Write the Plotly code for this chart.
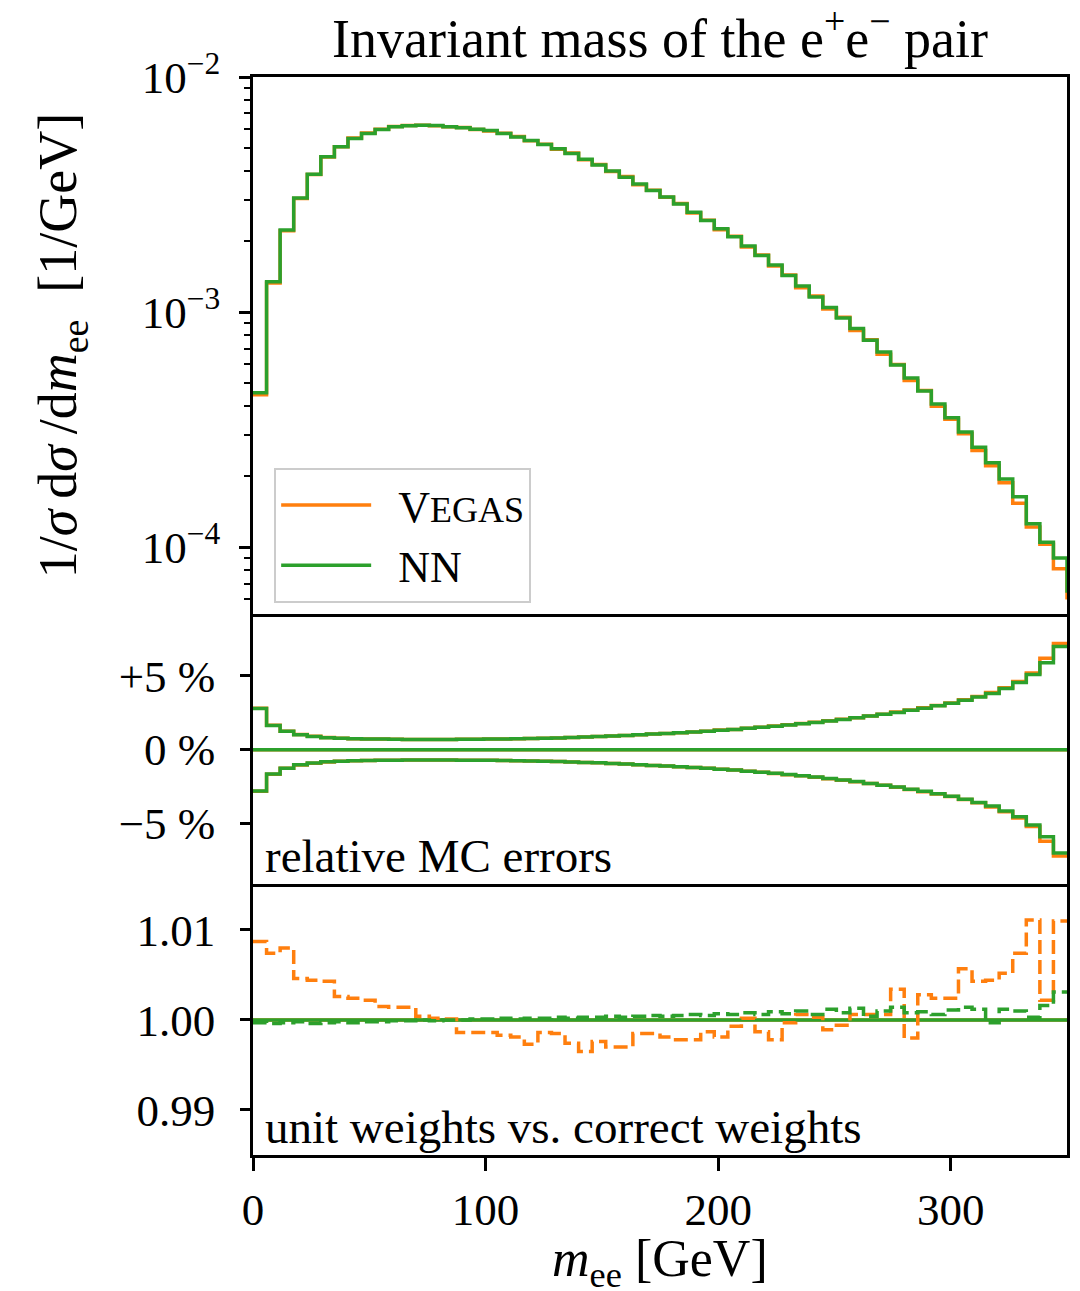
import numpy as np
import plotly.graph_objects as go

# ---------------- data ----------------
x_min, x_max, n_bins = 0.0, 350.0, 60
bin_edges = np.linspace(x_min, x_max, n_bins + 1)

# normalised distribution 1/sigma dsigma/dm_ee [1/GeV]
nn_dist = [4.54e-4, 1.346e-3, 2.234e-3, 3.06e-3, 3.86e-3, 4.58e-3, 5.05e-3, 5.48e-3, 5.75e-3, 5.98e-3,
           6.15e-3, 6.21e-3, 6.24e-3, 6.22e-3, 6.15e-3, 6.08e-3, 6.00e-3, 5.92e-3, 5.75e-3, 5.56e-3,
           5.37e-3, 5.16e-3, 4.95e-3, 4.73e-3, 4.47e-3, 4.22e-3, 3.98e-3, 3.75e-3, 3.51e-3, 3.29e-3,
           3.09e-3, 2.88e-3, 2.66e-3, 2.45e-3, 2.26e-3, 2.09e-3, 1.91e-3, 1.74e-3, 1.585e-3, 1.43e-3,
           1.29e-3, 1.16e-3, 1.047e-3, 9.44e-4, 8.51e-4, 7.59e-4, 6.76e-4, 5.96e-4, 5.25e-4, 4.62e-4,
           4.07e-4, 3.55e-4, 3.09e-4, 2.66e-4, 2.29e-4, 1.95e-4, 1.64e-4, 1.26e-4, 1.05e-4, 9.0e-5]
vegas_dist = [4.45e-4, 1.33e-3, 2.22e-3, 3.04e-3, 3.85e-3, 4.57e-3, 5.05e-3, 5.50e-3, 5.78e-3, 6.00e-3,
              6.16e-3, 6.22e-3, 6.23e-3, 6.20e-3, 6.14e-3, 6.10e-3, 5.98e-3, 5.90e-3, 5.76e-3, 5.58e-3,
              5.35e-3, 5.18e-3, 4.93e-3, 4.75e-3, 4.45e-3, 4.24e-3, 3.96e-3, 3.77e-3, 3.48e-3, 3.30e-3,
              3.08e-3, 2.90e-3, 2.64e-3, 2.46e-3, 2.24e-3, 2.10e-3, 1.89e-3, 1.75e-3, 1.57e-3, 1.44e-3,
              1.27e-3, 1.17e-3, 1.03e-3, 9.50e-4, 8.35e-4, 7.62e-4, 6.62e-4, 5.98e-4, 5.12e-4, 4.64e-4,
              3.98e-4, 3.50e-4, 3.04e-4, 2.58e-4, 2.22e-4, 1.88e-4, 1.54e-4, 1.22e-4, 1.03e-4, 8.1e-5]
nn_dist_edge = 6.4e-5      # value the outline drops to at the upper edge
vegas_dist_edge = 6.0e-5

# relative MC errors [%]
nn_relerr = [2.80, 1.65, 1.25, 1.02, 0.90, 0.82, 0.78, 0.75, 0.73, 0.72,
             0.71, 0.70, 0.70, 0.70, 0.70, 0.71, 0.71, 0.72, 0.73, 0.74,
             0.76, 0.78, 0.80, 0.83, 0.86, 0.89, 0.93, 0.97, 1.01, 1.06,
             1.10, 1.15, 1.20, 1.26, 1.32, 1.38, 1.45, 1.52, 1.60, 1.68,
             1.76, 1.85, 1.95, 2.05, 2.16, 2.28, 2.40, 2.53, 2.67, 2.82,
             2.98, 3.15, 3.35, 3.57, 3.82, 4.15, 4.55, 5.10, 5.90, 7.00]
vegas_relerr = [2.82, 1.66, 1.26, 1.03, 0.91, 0.83, 0.78, 0.75, 0.73, 0.72,
                0.71, 0.70, 0.70, 0.70, 0.70, 0.71, 0.71, 0.72, 0.73, 0.74,
                0.76, 0.78, 0.80, 0.83, 0.86, 0.89, 0.93, 0.97, 1.01, 1.06,
                1.10, 1.15, 1.21, 1.26, 1.33, 1.38, 1.46, 1.53, 1.61, 1.69,
                1.77, 1.86, 1.96, 2.06, 2.17, 2.29, 2.41, 2.55, 2.69, 2.84,
                3.00, 3.17, 3.38, 3.60, 3.88, 4.20, 4.62, 5.20, 6.20, 7.20]

# unit weights / correct weights
vegas_unit_ratio = [1.0087, 1.0074, 1.0080, 1.0046, 1.0044, 1.0043, 1.0026, 1.0024, 1.0022, 1.0015,
                    1.0014, 1.0014, 1.0004, 1.0002, 1.0001, 0.9986, 0.9986, 0.9986, 0.9983, 0.9981,
                    0.9973, 0.9986, 0.9985, 0.9974, 0.9965, 0.9976, 0.9970, 0.9970, 0.9985, 0.9985,
                    0.9981, 0.9978, 0.9978, 0.9987, 0.9981, 0.9993, 1.0002, 0.9987, 0.9978, 0.9997,
                    1.0006, 1.0003, 0.9989, 0.9994, 1.0006, 1.0006, 1.0006, 1.0034, 0.9980, 1.0028,
                    1.0024, 1.0024, 1.0057, 1.0043, 1.0044, 1.0052, 1.0074, 1.0111, 1.0022, 1.0110]
nn_unit_ratio = [0.9997, 0.9996, 0.9997, 0.9998, 0.9996, 0.9997, 0.9998, 0.9997, 0.9998, 0.9998,
                 0.9999, 0.9999, 1.0000, 0.9999, 1.0000, 1.0000, 1.0001, 1.0001, 1.0002, 1.0001,
                 1.0002, 1.0002, 1.0003, 1.0002, 1.0003, 1.0003, 1.0004, 1.0003, 1.0004, 1.0005,
                 1.0004, 1.0005, 1.0006, 1.0005, 1.0007, 1.0006, 1.0008, 1.0006, 1.0009, 1.0007,
                 1.0010, 1.0006, 1.0012, 1.0008, 1.0013, 1.0004, 1.0010, 1.0014, 1.0008, 1.0009,
                 1.0006, 1.0011, 1.0014, 1.0012, 0.9997, 1.0012, 1.0010, 1.0003, 1.0016, 1.0031]

x_ticks = [0, 100, 200, 300]
dist_ticks = [1e-4, 1e-3, 1e-2]
dist_ticktext = ["10<sup>−4</sup>", "10<sup>−3</sup>", "10<sup>−2</sup>"]
err_ticks = [-5, 0, 5]
err_ticktext = ["−5 %", "0 %", "+5 %"]
ratio_ticks = [0.99, 1.00, 1.01]
ratio_ticktext = ["0.99", "1.00", "1.01"]

# ---------------- style ----------------
ORANGE = "#ff7f0e"
GREEN = "#2ca02c"
FONT = "Liberation Serif"
LW = 3.5
TICK_FS = 45
LABEL_FS = 54

def step_xy(vals, edge=None):
    xs = list(bin_edges)
    ys = list(vals) + [vals[-1]]
    if edge is not None:
        xs = xs + [bin_edges[-1]]
        ys = ys + [edge]
    return xs, ys

fig = go.Figure()

# top panel
for name, vals, edge, col in [("\u2002V<span style=\"font-size:36px\">EGAS</span>", vegas_dist, vegas_dist_edge, ORANGE),
                              ("\u2002NN", nn_dist, nn_dist_edge, GREEN)]:
    xs, ys = step_xy(vals, edge)
    fig.add_trace(go.Scatter(x=xs, y=ys, mode="lines", line=dict(shape="hv", color=col, width=LW),
                             name=name, xaxis="x3", yaxis="y3"))

# middle panel
zeros = [0.0] * n_bins
for vals, col in [(vegas_relerr, ORANGE), (nn_relerr, GREEN)]:
    for sign in (1, -1):
        xs, ys = step_xy([sign * v for v in vals])
        fig.add_trace(go.Scatter(x=xs, y=ys, mode="lines", line=dict(shape="hv", color=col, width=LW),
                                 showlegend=False, xaxis="x2", yaxis="y2"))
for col in (ORANGE, GREEN):
    xs, ys = step_xy(zeros)
    fig.add_trace(go.Scatter(x=xs, y=ys, mode="lines", line=dict(shape="hv", color=col, width=LW),
                             showlegend=False, xaxis="x2", yaxis="y2"))

# bottom panel
ones = [1.0] * n_bins
for col in (ORANGE, GREEN):
    xs, ys = step_xy(ones)
    fig.add_trace(go.Scatter(x=xs, y=ys, mode="lines", line=dict(shape="hv", color=col, width=LW),
                             showlegend=False, xaxis="x", yaxis="y"))
for vals, col in [(vegas_unit_ratio, ORANGE), (nn_unit_ratio, GREEN)]:
    xs, ys = step_xy(vals)
    fig.add_trace(go.Scatter(x=xs, y=ys, mode="lines",
                             line=dict(shape="hv", color=col, width=LW, dash="14px,6px"),
                             showlegend=False, xaxis="x", yaxis="y"))

# ---------------- layout ----------------
W, H = 1080, 1291
L, R, T, B = 253, 13, 77, 136
plot_h = H - T - B
y_bot_top = 1155 - 884
y_mid_top = 1155 - 614
d_bot = [0, y_bot_top / plot_h]
d_mid = [y_bot_top / plot_h, y_mid_top / plot_h]
d_top = [y_mid_top / plot_h, 1]

def xax(mirror):
    return dict(showline=True, linecolor="black", linewidth=2.5, mirror=mirror, automargin=False,
                showgrid=False, zeroline=False, range=[x_min, x_max])

def yax():
    return dict(showline=True, linecolor="black", linewidth=2.5, mirror=True, automargin=False,
                showgrid=False, zeroline=False, ticks="outside", tickwidth=2.5, tickcolor="black")

tickfont = dict(family=FONT, size=TICK_FS, color="black")

minor_vals = [m * 10 ** e for e in (-5, -4, -3) for m in range(2, 10)]
minor_vals = [v for v in minor_vals if 5.2e-5 < v < 1e-2]

fig.update_layout(
    width=W, height=H,
    margin=dict(l=L, r=R, t=T, b=B, autoexpand=False),
    paper_bgcolor="white", plot_bgcolor="white",
    font=dict(family=FONT, color="black", size=TICK_FS),
    title=dict(text="Invariant mass of the e<sup>+</sup>e<sup>−</sup> pair",
               font=dict(family=FONT, size=54, color="black"),
               x=(L + (W - R - L) / 2) / W, xanchor="center",
               y=1 - 38 / H, yanchor="middle", yref="container"),
    xaxis=dict(**xax(False), domain=[0, 1], anchor="y", ticks="outside", ticklen=13, tickwidth=2.5,
               tickcolor="black", tickvals=x_ticks, tickfont=tickfont, ticklabelstandoff=0),
    xaxis2=dict(**xax(False), domain=[0, 1], anchor="y2", matches="x", showticklabels=False, ticks=""),
    xaxis3=dict(**xax(True), domain=[0, 1], anchor="y3", matches="x", showticklabels=False, ticks=""),
    yaxis=dict(**yax(), domain=d_bot, anchor="x", range=[0.985, 1.0151], ticklen=10,
               tickvals=ratio_ticks, ticktext=ratio_ticktext, tickfont=tickfont, ticklabelstandoff=16),
    yaxis2=dict(**yax(), domain=d_mid, anchor="x2", range=[-9.1, 9.2], ticklen=10,
                tickvals=err_ticks, ticktext=err_ticktext, tickfont=tickfont, ticklabelstandoff=16),
    yaxis3=dict(**yax(), domain=d_top, anchor="x3", type="log", range=[np.log10(5.2e-5), -2], ticklen=11,
                tickvals=dist_ticks, ticktext=dist_ticktext, tickfont=tickfont, ticklabelstandoff=10,
                minor=dict(tickvals=minor_vals, ticks="outside", ticklen=6, tickwidth=2, tickcolor="black"),
                title=dict(text="1/<i>σ</i>\u2009d<i>σ</i>\u2009/d<i>m</i><sub>ee</sub>\u2002[1/GeV]",
                           font=dict(family=FONT, size=LABEL_FS), standoff=48)),
    legend=dict(x=0.026, y=(1155 - 468) / plot_h, xanchor="left", yanchor="top",
                bgcolor="rgba(255,255,255,0.8)", bordercolor="#cccccc", borderwidth=2,
                font=dict(family=FONT, size=44, color="black"), itemwidth=90,
                tracegroupgap=0),
    annotations=[
        dict(text="relative MC errors", xref="x2 domain", yref="y2 domain", x=0.012, y=0.0,
             xanchor="left", yanchor="bottom", showarrow=False, font=dict(family=FONT, size=47)),
        dict(text="unit weights vs. correct weights", xref="x domain", yref="y domain", x=0.012, y=0.0,
             xanchor="left", yanchor="bottom", showarrow=False, font=dict(family=FONT, size=47)),
        dict(text="<i>m</i><sub>ee</sub> [GeV]", xref="paper", yref="paper", x=0.5,
             y=(1155 - 1262) / plot_h, xanchor="center", yanchor="middle", showarrow=False,
             font=dict(family=FONT, size=52)),
    ],
)

fig.write_html("out.html")
